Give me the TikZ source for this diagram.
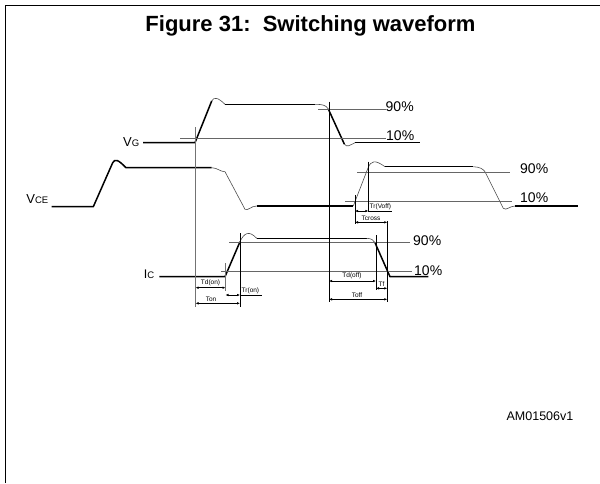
\documentclass[tikz,border=0pt]{standalone}
\usepackage{fontspec}
\setmainfont{Liberation Sans}
\usetikzlibrary{arrows.meta}
\begin{document}
\begin{tikzpicture}[x=1pt,y=-1pt,
  wthick/.style={line width=1.5pt,black,line join=round},
  wthin/.style={line width=0.6pt,black!70},
  level/.style={line width=1pt,black!60},
  vgray/.style={line width=1.2pt,black!55},
  vblack/.style={line width=0.9pt,black},
  dim/.style={line width=0.7pt,{Latex[length=3pt,width=2.6pt]}-{Latex[length=3pt,width=2.6pt]}},
  tlab/.style={font=\fontsize{6.5}{7}\selectfont,inner sep=0.5pt},
  pct/.style={font=\fontsize{14}{16}\selectfont,inner sep=0pt,anchor=base west},
  sig/.style={inner sep=0pt,anchor=base east}]
\useasboundingbox (0,0) rectangle (600,483);
\draw[line width=1pt] (5,483) -- (5,5) -- (600,5);
\node[font=\bfseries\fontsize{22}{24}\selectfont,anchor=base,inner sep=0pt] (title) at (310.5,31.5) {Figure 31:\ \ Switching waveform};

% VG waveform
\draw[wthick] (143,142.7) -- (195,142.7) -- (211.7,101);
\draw[wthin] (211.7,101) .. controls (214,96.5) and (218,97.5) .. (225,104.3);
\draw[wthick] (225,104.3) -- (315,104.3);
\draw[wthin] (315,104.3) .. controls (322,104.3) and (326,105) .. (328.3,109);
\draw[wthick] (328.3,109) -- (344.3,144);
\draw[wthin] (344.3,144) .. controls (347,148) and (350,145) .. (355,142.7);
\draw[wthick] (355,142.7) -- (420,142.7);
\node[sig] (vg) at (139.5,146) {\fontsize{13}{14}\selectfont V\fontsize{9.5}{10}\selectfont G};

% VCE waveform
\draw[wthick] (51.7,206.7) -- (93.3,206.7) -- (112.7,162.7) .. controls (115,158.5) and (118,159.5) .. (126,167.7) -- (211.7,167.7);
\draw[wthin] (211.7,167.7) .. controls (218,168) and (220,171.7) .. (225,171.7) -- (245,209.3) .. controls (248,211) and (251,206) .. (256.7,206);
\draw[wthick] (256.7,206) -- (353.3,206);
\draw[wthin] (353.3,206) -- (368,168) .. controls (371,160.5) and (375,159.5) .. (385,166.7);
\draw[wthick] (385,166.7) -- (473.3,166.7);
\draw[wthin] (473.3,166.7) .. controls (480,167) and (483,169) .. (485,171.7) -- (503.3,208.3) .. controls (506,211) and (510,206) .. (515,206);
\draw[wthick] (515,206) -- (578.3,206);
\node[sig] (vce) at (48.5,203.5) {\fontsize{13}{14}\selectfont V\fontsize{9.5}{10}\selectfont CE};

% IC waveform
\draw[wthick] (159.3,276.7) -- (225,276.7) -- (240,241.7);
\draw[wthin] (240,241.7) .. controls (244,233) and (249,230) .. (256.7,238.3);
\draw[wthick] (256.7,238.3) -- (366.7,238.3);
\draw[wthin] (366.7,238.3) .. controls (371,238.5) and (374,240) .. (375,242.7);
\draw[wthick] (375,242.7) -- (390,276.7) -- (428.3,276.7);
\node[sig] (ic) at (154.5,278.5) {\fontsize{12.5}{14}\selectfont I\fontsize{9.5}{10}\selectfont C};

% level lines
\draw[level] (318,109) -- (386,109);
\draw[level] (180,138) -- (386,138);
\draw[level] (357,172.7) -- (510,172.7);
\draw[level] (345,201.7) -- (512,201.7);
\draw[level] (229,242.7) -- (410,242.7);
\draw[level] (221,271.7) -- (412,271.7);
\node[pct] (vg90) at (385.5,111.5) {90\%};
\node[pct] (vg10) at (386,140.5) {10\%};
\node[pct] (vce90) at (520,173) {90\%};
\node[pct] (vce10) at (520,202.5) {10\%};
\node[pct] (ic90) at (413,245) {90\%};
\node[pct] (ic10) at (414,275) {10\%};

% vertical markers
\draw[vgray] (195.5,127) -- (195.5,307);
\draw[vblack] (329,101.7) -- (329,302);
\draw[vblack] (355,195) -- (355,223.5);
\draw[vblack] (368.3,161.7) -- (368.3,212);
\draw[vblack] (387.3,221) -- (387.3,302);
\draw[vblack] (376,235) -- (376,290);
\draw[vgray,line width=0.9pt] (225.5,263) -- (225.5,291);
\draw[vblack] (240,233) -- (240,307);

% timing dimensions
\coordinate (tdon1) at (195.5,287.7); \coordinate (tdon2) at (225.5,287.7);
\draw[dim] (tdon1) -- (tdon2);
\node[tlab,anchor=south] (ltdon) at (210.5,286.5) {Td(on)};
\coordinate (tron1) at (225.5,295); \coordinate (tron2) at (240,295); \coordinate (tron3) at (262,295);
\draw[dim] (tron1) -- (tron2); \draw[line width=0.6pt] (tron2) -- (tron3);
\node[tlab,anchor=south west] (ltron) at (241,294.5) {Tr(on)};
\coordinate (ton1) at (195.5,303.3); \coordinate (ton2) at (240,303.3);
\draw[dim] (ton1) -- (ton2);
\node[tlab,anchor=south] (lton) at (211,302) {Ton};

\coordinate (trv1) at (355,211); \coordinate (trv2) at (368.3,211); \coordinate (trv3) at (392,211);
\draw[dim] (trv1) -- (trv2); \draw[line width=0.6pt] (trv2) -- (trv3);
\node[tlab,anchor=south west] (ltrv) at (369,210.5) {Tr(Voff)};
\coordinate (tcr1) at (355,222.3); \coordinate (tcr2) at (387.3,222.3);
\draw[dim] (tcr1) -- (tcr2);
\node[tlab,anchor=south] (ltcr) at (371,221.3) {Tcross};

\coordinate (tdoff1) at (329,281); \coordinate (tdoff2) at (376,281);
\draw[dim] (tdoff1) -- (tdoff2);
\node[tlab,anchor=south] (ltdoff) at (352,280) {Td(off)};
\coordinate (tf1) at (376,288.3); \coordinate (tf2) at (387.3,288.3);
\draw[dim] (tf1) -- (tf2);
\node[tlab,anchor=south] (ltf) at (381.6,287.3) {Tf};
\coordinate (toff1) at (329,299.3); \coordinate (toff2) at (387.3,299.3);
\draw[dim] (toff1) -- (toff2);
\node[tlab,anchor=south] (ltoff) at (357,298.3) {Toff};

\node[font=\fontsize{12.5}{14}\selectfont] (code) at (540,416) {AM01506v1};
\end{tikzpicture}
\end{document}
